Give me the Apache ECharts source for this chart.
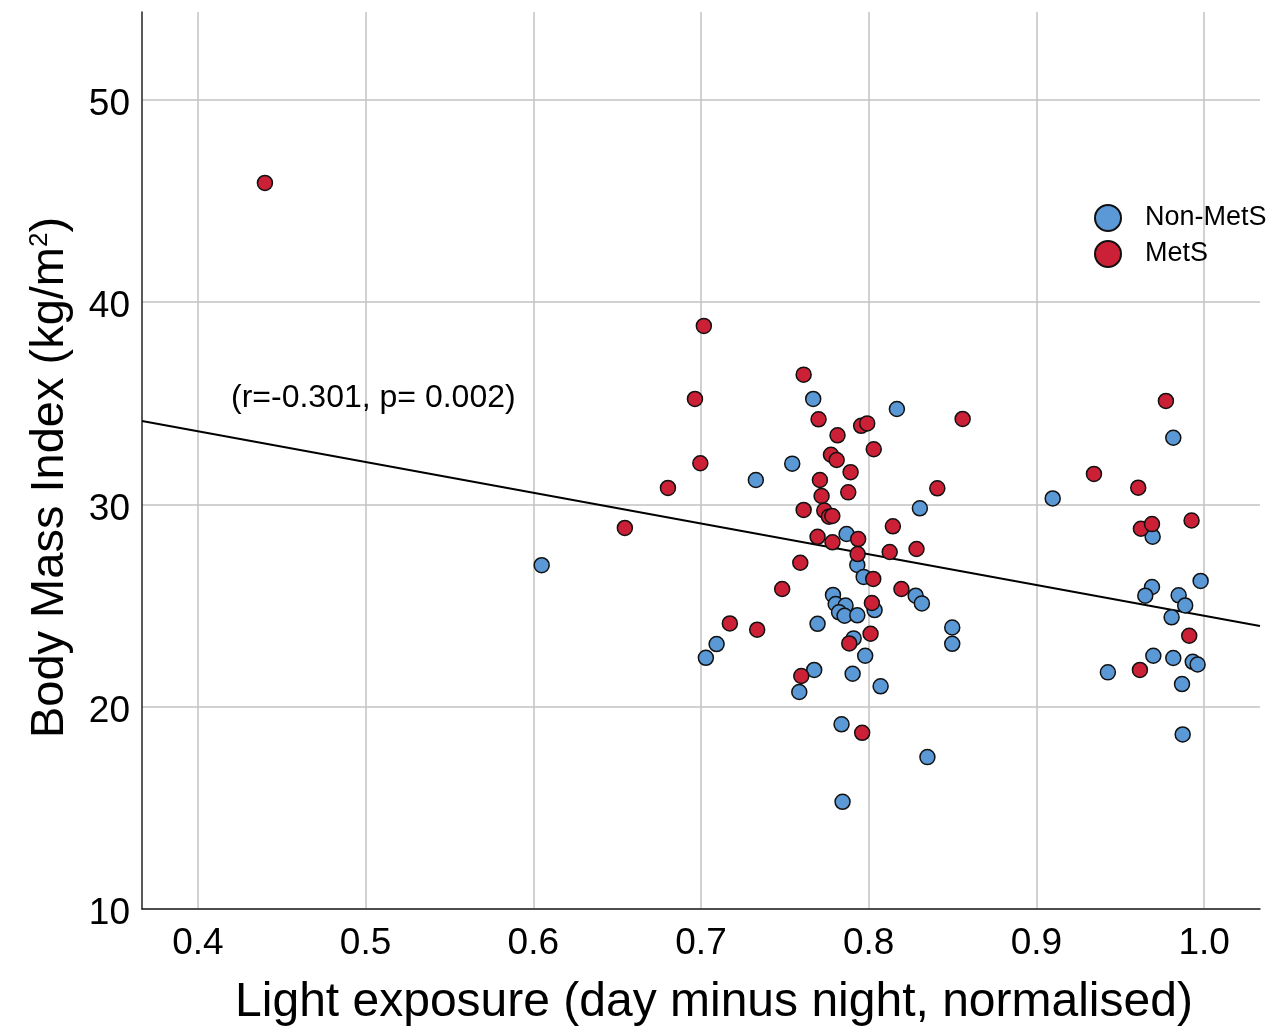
<!DOCTYPE html>
<html>
<head>
<meta charset="utf-8">
<script src="https://cdn.jsdelivr.net/npm/echarts@6/dist/echarts.min.js"></script>
<style>
html,body{margin:0;padding:0;background:#fff;}
#chart{width:1280px;height:1027px;}
</style>
</head>
<body>
<div id="chart"></div>
<script>
// ---- data ----
const xTicks = [0.4, 0.5, 0.6, 0.7, 0.8, 0.9, 1.0];
const yTicks = [10, 20, 30, 40, 50];
const seriesNames = ['Non-MetS', 'MetS'];

const nonMetS = [
  [0.605,27.0],[0.7327,31.21],[0.7544,32.02],[0.7669,35.22],[0.8168,34.72],[0.8305,29.81],
  [0.7868,28.54],[0.7932,27.01],[0.7970,26.42],[0.8280,25.49],[0.8317,25.11],[0.7787,25.53],
  [0.7803,25.08],[0.7862,25.00],[0.7823,24.67],[0.7856,24.50],[0.7932,24.52],[0.8035,24.78],
  [0.7695,24.10],[0.8498,23.92],[0.8498,23.11],[0.7910,23.38],[0.7979,22.52],[0.7675,21.82],
  [0.7586,20.73],[0.7904,21.63],[0.8071,21.01],[0.7838,19.13],[0.8350,17.51],[0.7844,15.30],
  [0.7093,23.10],[0.7029,22.42],
  [0.9097,30.30],[0.9816,33.30],[0.9693,28.41],[0.9979,26.22],[0.9689,25.92],[0.9649,25.49],
  [0.9848,25.51],[0.9887,25.01],[0.9806,24.42],[0.9697,22.52],[0.9816,22.41],[0.9932,22.22],
  [0.9961,22.09],[0.9426,21.70],[0.9868,21.12],[0.9872,18.63]
];

const metS = [
  [0.440,45.9],[0.6546,28.84],[0.6803,30.82],[0.6964,35.22],[0.7017,38.83],[0.6996,32.04],
  [0.7612,36.42],[0.7701,34.21],[0.7814,33.42],[0.7955,33.89],[0.7991,34.01],[0.8560,34.23],
  [0.8030,32.73],[0.7775,32.46],[0.7809,32.20],[0.7892,31.60],[0.7709,31.21],[0.7878,30.60],
  [0.7719,30.42],[0.8409,30.80],[0.7612,29.73],[0.7735,29.70],[0.7763,29.40],[0.7783,29.43],
  [0.8144,28.92],[0.7937,28.29],[0.7695,28.40],[0.7784,28.13],[0.7934,27.55],[0.8125,27.65],
  [0.8285,27.80],[0.7592,27.12],[0.8027,26.32],[0.7484,25.82],[0.8195,25.82],[0.8019,25.13],
  [0.7335,23.81],[0.8011,23.61],[0.7884,23.13],[0.7598,21.52],[0.7172,24.12],[0.7961,18.71],
  [0.9772,35.12],[0.9343,31.51],[0.9607,30.83],[0.9925,29.21],[0.9623,28.80],[0.9689,29.03],
  [0.9911,23.51],[0.9617,21.82]
];

const fitLine = [[0.3667, 34.13], [1.0333, 23.99]];
const annotation = '(r=-0.301, p= 0.002)';

// ---- chart ----
const FONT = "'Liberation Sans', Arial, sans-serif";
const chart = echarts.init(document.getElementById('chart'), null, {renderer: 'canvas'});

const markerStyle = (color) => ({
  color: color, borderColor: '#111', borderWidth: 1.5, opacity: 1
});

const option = {
  animation: false,
  backgroundColor: '#fff',
  grid: {left: 142, right: 20, top: 12, bottom: 118, containLabel: false, outerBoundsMode: 'none'},
  legend: {
    orient: 'vertical', left: 1094, top: 204, padding: 0,
    itemWidth: 26, itemHeight: 26, itemGap: 8,
    icon: 'circle',
    data: seriesNames,
    textStyle: {fontFamily: FONT, fontSize: 27, color: '#000', padding: [0, 0, 0, 19]}
  },
  xAxis: {
    type: 'value', min: 0.3667, max: 1.0333,
    name: 'Light exposure (day minus night, normalised)',
    nameLocation: 'middle', nameGap: 70,
    nameTextStyle: {fontFamily: FONT, fontSize: 48, color: '#000', padding: [0, 0, 0, 26]},
    axisLine: {show: true, onZero: false, lineStyle: {color: '#222', width: 1.5}},
    axisTick: {show: false, customValues: xTicks},
    axisLabel: {customValues: xTicks, formatter: v => v.toFixed(1), fontFamily: FONT, fontSize: 37, color: '#000', margin: 16},
    splitLine: {show: true, lineStyle: {color: '#c2c2c2', width: 1.5}}
  },
  yAxis: {
    type: 'value', min: 10, max: 54.35,
    name: 'Body Mass Index (kg/m{sup|2})',
    nameLocation: 'middle', nameGap: 68, nameRotate: 90,
    nameTextStyle: {
      fontFamily: FONT, fontSize: 47, color: '#000', padding: [0, 34, 0, 0],
      rich: {sup: {fontFamily: FONT, fontSize: 26, color: '#000', verticalAlign: 'top', lineHeight: 30}}
    },
    axisLine: {show: true, onZero: false, lineStyle: {color: '#222', width: 1.5}},
    axisTick: {show: false, customValues: yTicks},
    axisLabel: {customValues: yTicks, fontFamily: FONT, fontSize: 37, color: '#000', margin: 12,
      verticalAlign: 'top', lineHeight: 10},
    splitLine: {show: true, lineStyle: {color: '#c2c2c2', width: 1.5}}
  },
  graphic: [{
    type: 'text', left: 231, top: 382, z: 100,
    style: {text: annotation, fontFamily: FONT, fontSize: 32, fill: '#000'}
  }],
  series: [
    {
      type: 'line', data: fitLine, symbol: 'none', silent: true, z: 1,
      lineStyle: {color: '#000', width: 2}, legendHoverLink: false
    },
    {
      name: seriesNames[0], type: 'scatter', data: nonMetS, symbolSize: 15, z: 3,
      itemStyle: markerStyle('#5a98d6')
    },
    {
      name: seriesNames[1], type: 'scatter', data: metS, symbolSize: 15, z: 4,
      itemStyle: markerStyle('#cc2036')
    }
  ]
};
chart.setOption(option);
</script>
</body>
</html>
